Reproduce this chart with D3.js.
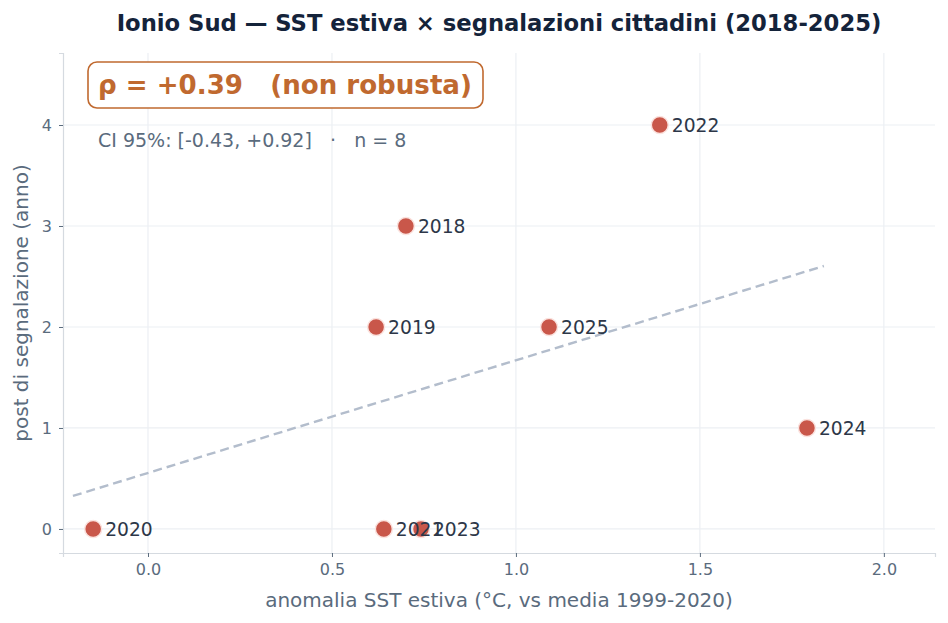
<!DOCTYPE html>
<html>
<head>
<meta charset="utf-8">
<script src="https://cdn.jsdelivr.net/npm/d3@7"></script>
<style>
  body { margin: 0; background: #fff; }
  text { font-family: "DejaVu Sans", sans-serif; }
</style>
</head>
<body>
<div class="chart"></div>
<script>
// data
let years = ["2018", "2019", "2020", "2021", "2022", "2023", "2024", "2025"];
let sstAnomaly = [0.701, 0.620, -0.149, 0.641, 1.391, 0.742, 1.791, 1.090];
let posts = [3, 2, 0, 0, 4, 0, 1, 2];
let xTicks = [0.0, 0.5, 1.0, 1.5, 2.0];
let yTicks = [0, 1, 2, 3, 4];
let trendX = [-0.204, 1.837];
let trendY = [0.327, 2.604];

let W = 948, H = 623;
let margin = {top: 53, right: 13, bottom: 70, left: 63},
  width = W - margin.left - margin.right,
  height = H - margin.top - margin.bottom;

let svg = d3.select(".chart")
  .append("svg")
  .attr("width", W)
  .attr("height", H);

let g = svg.append("g")
  .attr("transform", "translate(" + margin.left + "," + margin.top + ")");

let x = d3.scaleLinear().domain([-0.231, 2.139]).range([0, width]);
let y = d3.scaleLinear().domain([-0.238, 4.713]).range([height, 0]);

let grid = "#eceff3", spine = "#d5dae0", tickCol = "#5a6b7d";

// grid
g.selectAll(".vgrid").data(xTicks).enter().append("line")
  .attr("x1", d => x(d)).attr("x2", d => x(d))
  .attr("y1", 0).attr("y2", height)
  .attr("stroke", grid).attr("stroke-width", 1.2);
g.selectAll(".hgrid").data(yTicks).enter().append("line")
  .attr("y1", d => y(d)).attr("y2", d => y(d))
  .attr("x1", 0).attr("x2", width)
  .attr("stroke", grid).attr("stroke-width", 1.2);

// axes
let xAxis = g.append("g")
  .attr("transform", "translate(0," + height + ")")
  .call(d3.axisBottom(x).tickValues(xTicks).tickFormat(d3.format(".1f")).tickSize(4).tickPadding(7));
let yAxis = g.append("g")
  .call(d3.axisLeft(y).tickValues(yTicks).tickFormat(d3.format("d")).tickSize(4).tickPadding(7));

[xAxis, yAxis].forEach(a => {
  a.attr("font-size", null).attr("font-family", null);
  a.select(".domain").attr("stroke", spine).attr("stroke-width", 1.2);
  a.selectAll(".tick line").attr("stroke", tickCol);
  a.selectAll(".tick text")
    .attr("fill", tickCol)
    .style("font-size", "16px");
});

// trend line
g.append("line")
  .attr("x1", x(trendX[0])).attr("y1", y(trendY[0]))
  .attr("x2", x(trendX[1])).attr("y2", y(trendY[1]))
  .attr("stroke", "#b3bdcc")
  .attr("stroke-width", 2.4)
  .attr("stroke-dasharray", "9,5");

// points
let pts = years.map((yr, i) => ({year: yr, sst: sstAnomaly[i], n: posts[i]}));

g.selectAll(".pt").data(pts).enter().append("circle")
  .attr("cx", d => x(d.sst))
  .attr("cy", d => y(d.n))
  .attr("r", 8.5)
  .attr("fill", "#c9574a")
  .attr("stroke", "#fbe3df")
  .attr("stroke-width", 1.5);

g.selectAll(".lbl").data(pts).enter().append("text")
  .attr("x", d => x(d.sst) + 12)
  .attr("y", d => y(d.n))
  .attr("dy", "0.35em")
  .attr("fill", "#2d3748")
  .style("font-size", "18.7px")
  .text(d => d.year);

// annotation box
let ann = g.append("g");
ann.append("rect")
  .attr("x", 25).attr("y", 9)
  .attr("width", 395).attr("height", 46)
  .attr("rx", 9)
  .attr("fill", "#fff")
  .attr("stroke", "#c0692f")
  .attr("stroke-width", 1.6);
ann.append("text")
  .attr("x", 35).attr("y", 41)
  .attr("fill", "#c0692f")
  .style("font-size", "26.1px")
  .style("font-weight", "bold")
  .style("white-space", "pre")
  .text("ρ = +0.39   (non robusta)");
ann.append("text")
  .attr("x", 35).attr("y", 94)
  .attr("fill", "#5a6b7d")
  .style("font-size", "19px")
  .style("white-space", "pre")
  .text("CI 95%: [-0.43, +0.92]   ·   n = 8");

// title and axis labels
svg.append("text")
  .attr("x", margin.left + width / 2).attr("y", 31)
  .attr("text-anchor", "middle")
  .attr("fill", "#14233a")
  .style("font-size", "22.7px")
  .style("font-weight", "bold")
  .text("Ionio Sud — SST estiva × segnalazioni cittadini (2018-2025)");

svg.append("text")
  .attr("x", margin.left + width / 2).attr("y", 607)
  .attr("text-anchor", "middle")
  .attr("fill", "#5a6b7d")
  .style("font-size", "20px")
  .text("anomalia SST estiva (°C, vs media 1999-2020)");

svg.append("text")
  .attr("transform", "translate(28," + (margin.top + height / 2) + ") rotate(-90)")
  .attr("text-anchor", "middle")
  .attr("fill", "#5a6b7d")
  .style("font-size", "20px")
  .text("post di segnalazione (anno)");
</script>
</body>
</html>
